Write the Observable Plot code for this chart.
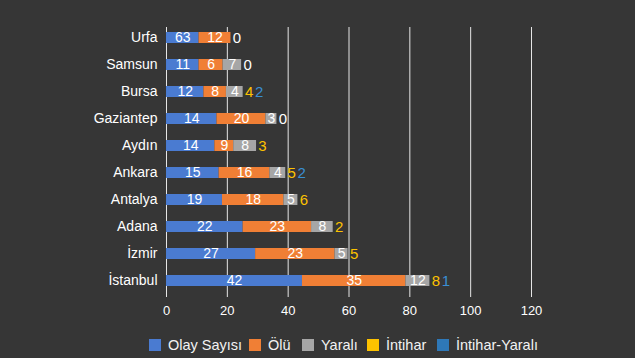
<!DOCTYPE html>
<html>
<head>
<meta charset="utf-8">
<script src="https://cdn.jsdelivr.net/npm/d3@7"></script>
<script src="https://cdn.jsdelivr.net/npm/@observablehq/plot@0.6"></script>
<style>
  html, body { margin: 0; padding: 0; background: #363636; }
  #wrap { position: relative; width: 635px; height: 358px; background: #363636; overflow: hidden; }
  #legend { position: absolute; top: 336px; left: 0; width: 635px; height: 18px;
            font-family: "Liberation Sans", Arial, sans-serif; font-size: 14.5px; color: #f2f2f2; }
  #legend .sw { position: absolute; top: 3px; width: 12px; height: 12px; }
  #legend .lb { position: absolute; top: 0; line-height: 18px; white-space: nowrap; }
</style>
</head>
<body>
<div id="wrap"><div id="chart"></div><div id="legend"></div></div>
<script>
// ---- data ----
const cities = ["Urfa", "Samsun", "Bursa", "Gaziantep", "Aydın", "Ankara", "Antalya", "Adana", "İzmir", "İstanbul"];
const seriesNames = ["Olay Sayısı", "Ölü", "Yaralı", "İntihar", "İntihar-Yaralı"];
const seriesColors = ["#4a7bd1", "#f07f35", "#a6a6a6", "#fdc200", "#2e78b8"];

// bar lengths as drawn
const olayLen   = [10.7, 10.7, 12.3, 16.6, 15.9, 17.3, 18.4, 25.2, 29.3, 44.7];
const oluLen    = [10.5, 7.9, 7.4, 16.1, 6.2, 16.7, 20.2, 22.5, 26.1, 34.0];
const yaraliLen = [0, 6.1, 5.5, 3.6, 7.5, 5.2, 4.6, 7.1, 4.3, 7.9];

// value labels as printed
const olayLabel    = ["63", "11", "12", "14", "14", "15", "19", "22", "27", "42"];
const oluLabel     = ["12", "6", "8", "20", "9", "16", "18", "23", "23", "35"];
const yaraliLabel  = ["", "7", "4", "3", "8", "4", "5", "8", "5", "12"];
const intiharLabel = ["0", "0", "4", "0", "3", "5", "6", "2", "5", "8"];
const intiharYaraliLabel = ["", "", "2", "", "", "2", "", "", "", "1"];

const xTicks = [0, 20, 40, 60, 80, 100, 120];

// ---- build tables ----
const segs = [];
const ends = [];
cities.forEach((c, i) => {
  const lens = [olayLen[i], oluLen[i], yaraliLen[i]];
  const labs = [olayLabel[i], oluLabel[i], yaraliLabel[i]];
  let acc = 0;
  lens.forEach((l, k) => {
    segs.push({city: c, series: seriesNames[k], x1: acc, x2: acc + l, label: labs[k]});
    acc += l;
  });
  ends.push({city: c, end: acc, t1: intiharLabel[i], t2: intiharYaraliLabel[i]});
});

const chart = Plot.plot({
  width: 635,
  height: 332,
  marginLeft: 166,
  marginRight: 104,
  marginTop: 27,
  marginBottom: 40,
  style: {background: "#363636", color: "#ffffff", fontFamily: "'Liberation Sans', Arial, sans-serif", fontSize: "13px"},
  x: {domain: [0, 120], ticks: xTicks},
  y: {domain: cities, paddingInner: 0.58, paddingOuter: 0.18},
  color: {domain: seriesNames, range: seriesColors},
  marks: [
    Plot.ruleX(xTicks, {stroke: "#e6e6e6", strokeWidth: 1}),
    Plot.barX(segs, {x1: "x1", x2: "x2", y: "city", fill: "series"}),
    Plot.text(segs, {x: d => (d.x1 + d.x2) / 2, y: "city", text: "label", fill: "#ffffff", fontSize: 14}),
    Plot.text(ends, {x: "end", y: "city", text: "t1", dx: 6, fontSize: 15,
      fill: d => d.t1 === "0" ? "#ffffff" : "#fdc200"}),
    Plot.text(ends, {x: "end", y: "city", text: "t2", dx: 16, fontSize: 15, fill: "#3a8fd4"}),
    Plot.axisX({ticks: xTicks, tickSize: 5, tickPadding: 8, stroke: "#e6e6e6", fill: "#ffffff", fontSize: 13, label: null}),
    Plot.axisY({tickSize: 0, tickPadding: 9, fill: "#ffffff", fontSize: 14, label: null})
  ]
});
document.getElementById("chart").appendChild(chart);

// ---- legend ----
const legendSw = [149, 249, 302, 367, 437];
const legend = document.getElementById("legend");
seriesNames.forEach((n, i) => {
  const sw = document.createElement("div");
  sw.className = "sw";
  sw.style.left = legendSw[i] + "px";
  sw.style.background = seriesColors[i];
  legend.appendChild(sw);
  const lb = document.createElement("div");
  lb.className = "lb";
  lb.style.left = (legendSw[i] + 19) + "px";
  lb.textContent = n;
  legend.appendChild(lb);
});
</script>
</body>
</html>
